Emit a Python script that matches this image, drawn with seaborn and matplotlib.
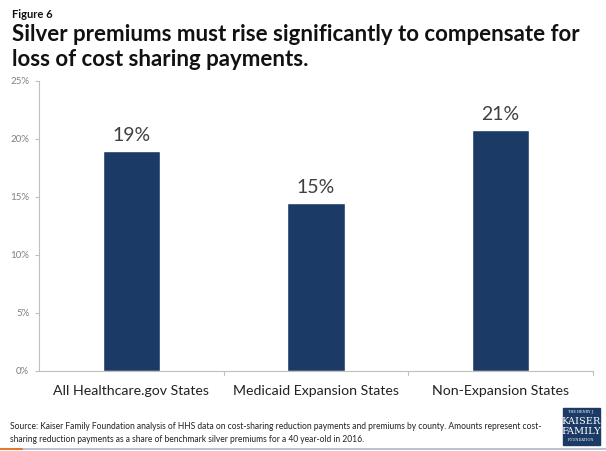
import matplotlib.pyplot as plt
import seaborn as sns
import pandas as pd
from matplotlib.patches import Rectangle
from matplotlib.lines import Line2D

categories = ['All Healthcare.gov States', 'Medicaid Expansion States', 'Non-Expansion States']
values = [19.0, 14.5, 20.8]
labels = ['19%', '15%', '21%']
yticks = [0, 5, 10, 15, 20, 25]

df = pd.DataFrame({'group': categories, 'pct': values})

sns.set_style('white')
plt.rcParams['font.family'] = ['Lato', 'DejaVu Sans']

fig = plt.figure(figsize=(6.06, 4.51), dpi=100)
W, H = 606, 451
ax = fig.add_axes([39 / W, 1 - 371 / H, (593 - 39) / W, (371 - 81) / H])

sns.barplot(data=df, x='group', y='pct', color='#1b3a66', width=0.31, ax=ax, saturation=1)
ax.set_ylim(0, 25)
ax.set_xlim(-0.5, 2.5)
ax.set_yticks(yticks)
ax.set_yticklabels([f'{t}%' for t in yticks], fontsize=7, color='#808080')
ax.set_xticks([0, 1, 2])
ax.set_xticklabels(categories, fontsize=10.2, color='#222222')
ax.tick_params(axis='x', length=0, pad=10)
ax.tick_params(axis='y', length=3, color='#bfbfbf', pad=4, left=True)
for x in [0.5, 1.5, 2.5]:
    ax.plot([x, x], [0, -0.35], color='#bfbfbf', lw=0.8, clip_on=False)
ax.set_xlabel('')
ax.set_ylabel('')
for s in ['top', 'right']:
    ax.spines[s].set_visible(False)
for s in ['left', 'bottom']:
    ax.spines[s].set_color('#bfbfbf')
    ax.spines[s].set_linewidth(0.8)

for i, (v, lab) in enumerate(zip(values, labels)):
    ax.text(i, v + 0.6, lab, ha='center', va='bottom', fontsize=14, color='#404040')

fig.text(12 / W, 1 - 14 / H, 'Figure 6', fontsize=8, fontweight='bold', color='#111111', va='center')
fig.text(12 / W, 1 - 47 / H,
         'Silver premiums must rise significantly to compensate for\nloss of cost sharing payments.',
         fontsize=16, fontweight='bold', color='#111111', va='center', linespacing=1.2)

fig.text(10 / W, 1 - 433 / H,
         'Source: Kaiser Family Foundation analysis of HHS data on cost-sharing reduction payments and premiums by county. Amounts represent cost-\n'
         'sharing reduction payments as a share of benchmark silver premiums for a 40 year-old in 2016.',
         fontsize=6.15, color='#222222', va='center', linespacing=1.45)

# logo
fig.patches.append(Rectangle((563 / W, 1 - 445 / H), 37 / W, 37 / H, transform=fig.transFigure,
                             color='#1b3a66', zorder=5))
fig.text(581.5 / W, 1 - 412 / H, 'THE HENRY J.', fontsize=2.5, color='white', ha='center', va='center', family='DejaVu Serif', zorder=6)
fig.text(581.5 / W, 1 - 421 / H, 'KAISER', fontsize=7, color='white', ha='center', va='center', family='DejaVu Serif', zorder=6)
fig.text(581.5 / W, 1 - 431 / H, 'FAMILY', fontsize=7, color='white', ha='center', va='center', family='DejaVu Serif', zorder=6)
fig.text(581.5 / W, 1 - 440 / H, 'FOUNDATION', fontsize=2.5, color='white', ha='center', va='center', family='DejaVu Serif', zorder=6)

fig.lines.append(Line2D([0, 1], [1 - 449 / H, 1 - 449 / H], transform=fig.transFigure, color='#b0b8c8', lw=1.2))
fig.lines.append(Line2D([0, 22 / W], [1 - 449 / H, 1 - 449 / H], transform=fig.transFigure, color='#e07a2f', lw=1.5))

fig.savefig('out.png', dpi=100)
